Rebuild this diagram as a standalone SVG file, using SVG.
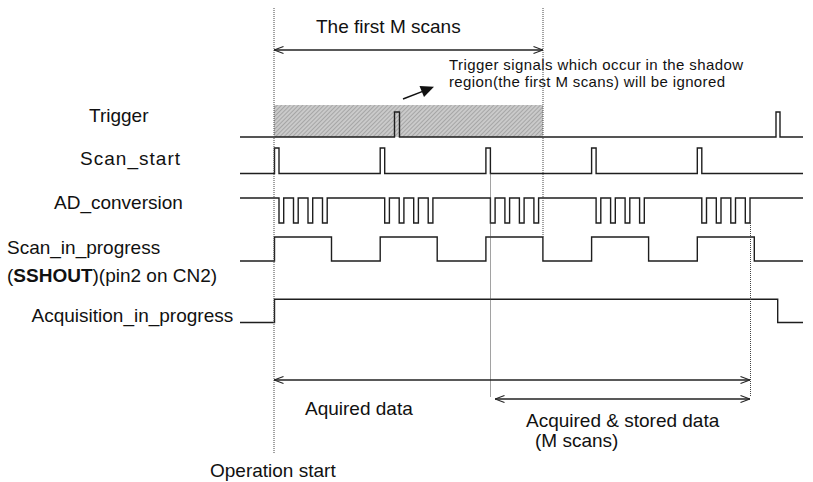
<svg xmlns="http://www.w3.org/2000/svg" width="813" height="482" viewBox="0 0 813 482">
<style>
text{font-family:"Liberation Sans",Arial,sans-serif;fill:#111}
.lbl{font-size:19px}
.note{font-size:15px}
.sig{fill:none;stroke:#1e1e1e;stroke-width:1.4}
.dot{fill:none;stroke:#444;stroke-width:1;stroke-dasharray:1 1}
.arr{fill:none;stroke:#222;stroke-width:1.3;marker-start:url(#chev);marker-end:url(#chev)}
</style>
<defs>
<marker id="chev" viewBox="0 0 10 8" refX="10" refY="4" markerUnits="userSpaceOnUse" markerWidth="10" markerHeight="8" orient="auto-start-reverse">
<path d="M0.5,0.5 L10,4 L0.5,7.5" fill="none" stroke="#222" stroke-width="1.1"/>
</marker>
<pattern id="hatch" width="3" height="3" patternUnits="userSpaceOnUse" patternTransform="rotate(45)">
<rect width="3" height="3" fill="#cacaca"/>
<line x1="0" y1="0" x2="0" y2="3" stroke="#8e8e8e" stroke-width="1.2"/>
</pattern>
</defs>
<rect id="shadow-region" x="274" y="105" width="269" height="32" fill="url(#hatch)"/>
<g id="labels">
<text class="lbl" x="316" y="33">The first M scans</text>
<text class="note" x="449" y="69.5" textLength="294">Trigger signals which occur in the shadow</text>
<text class="note" x="449" y="86.5" textLength="276">region(the first M scans) will be ignored</text>
<text class="lbl" x="305" y="414.5">Aquired data</text>
<text class="lbl" x="526" y="426.5">Acquired &amp; stored data</text>
<text class="lbl" x="535" y="447">(M scans)</text>
<text class="lbl" x="210" y="476.5">Operation start</text>
</g>
<g id="trigger">
<text class="lbl" x="89" y="121.5">Trigger</text>
<path class="sig" d="M240,137 H394.5 V112 H399.5 V137 H776 V112 H780 V137 H803"/>
</g>
<g id="scan_start">
<text class="lbl" x="80" y="165" textLength="100">Scan_start</text>
<path class="sig" d="M240,173.5 H274.5 V148 H279 V173.5 H380.2 V148 H384.7 V173.5 H485.9 V148 H490.4 V173.5 H591.6 V148 H596.1 V173.5 H697.3 V148 H701.8 V173.5 H803"/>
</g>
<g id="ad_conversion">
<text class="lbl" x="54" y="208.5">AD_conversion</text>
<path class="sig" d="M240,198 H279 V223 H283.7 V198 H293.5 V223 H298.2 V198 H308 V223 H312.7 V198 H322.5 V223 H327.2 V198 H384.7 V223 H389.4 V198 H399.2 V223 H403.9 V198 H413.7 V223 H418.4 V198 H428.2 V223 H432.9 V198 H490.4 V223 H495.1 V198 H504.9 V223 H509.6 V198 H519.4 V223 H524.1 V198 H533.9 V223 H538.6 V198 H596.1 V223 H600.8 V198 H610.6 V223 H615.3 V198 H625.1 V223 H629.8 V198 H639.6 V223 H644.3 V198 H701.8 V223 H706.5 V198 H716.3 V223 H721 V198 H730.8 V223 H735.5 V198 H745.3 V223 H750 V198 H803"/>
</g>
<g id="scan_in_progress">
<text class="lbl" x="7" y="253.5">Scan_in_progress</text>
<text class="lbl" x="7" y="281.5">(<tspan font-weight="bold">SSHOUT</tspan>)(pin2 on CN2)</text>
<path class="sig" d="M240,261 H274.5 V237 H331.5 V261 H380.2 V237 H437.2 V261 H485.9 V237 H542.9 V261 H591.6 V237 H648.6 V261 H697.3 V237 H754.3 V261 H803"/>
</g>
<g id="acquisition_in_progress">
<text class="lbl" x="31.5" y="321.5">Acquisition_in_progress</text>
<path class="sig" d="M240,322.5 H274.5 V299.3 H777.7 V322.5 H803"/>
</g>
<g id="connectors">
<line class="dot" x1="274" y1="8" x2="274" y2="453"/>
<line class="dot" x1="543" y1="8" x2="543" y2="237"/>
<line class="dot" x1="490.5" y1="173.5" x2="490.5" y2="397"/>
<line class="dot" x1="750.5" y1="223" x2="750.5" y2="397"/>
<line class="arr" x1="274" y1="50" x2="543" y2="50"/>
<line class="arr" x1="274" y1="380" x2="750" y2="380"/>
<line class="arr" x1="495" y1="399" x2="750" y2="399"/>
<line x1="403" y1="99" x2="424" y2="90.8" stroke="#111" stroke-width="1.4"/>
<polygon points="434,86.8 419.5,86 424,97" fill="#111"/>
</g>
</svg>
